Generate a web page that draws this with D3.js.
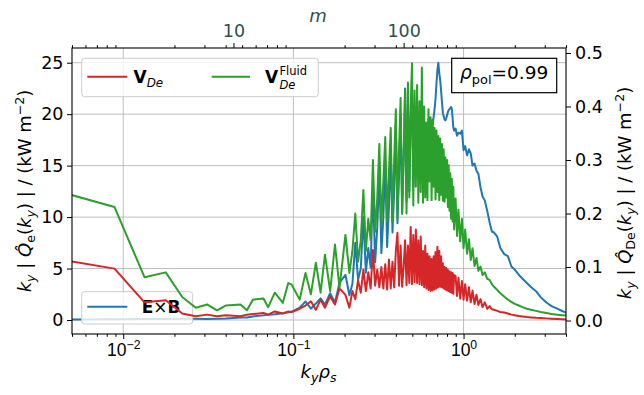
<!DOCTYPE html>
<html>
<head>
<meta charset="utf-8">
<script src="https://cdn.jsdelivr.net/npm/d3@7"></script>
<style>
  body { margin: 0; background: #fff; }
  svg { font-family: "DejaVu Sans", sans-serif; }
</style>
</head>
<body>
<div id="chart"></div>
<script>
// toroidal mode numbers of the spectrum points (k_y rho_s = m / M_PER_KY)
const M_PER_KY = 225;
const modeM = [
  1, 2, 3, 4, 5, 6, 7, 8, 9, 10, 11, 12, 13, 15, 16, 17.5, 19.5, 21, 22, 24.5,
  26.5, 28.5, 30.5, 32.5, 34.5, 37, 39.5, 42, 45.5,
  48, 50, 52, 54, 56, 58, 60, 62, 64, 66, 68, 70, 72, 74, 76, 78, 80, 82, 84, 86, 88, 90, 92, 94, 96, 98,
  100, 102, 104, 106, 108, 110, 112, 114, 116, 118, 120, 122, 124, 126, 128, 130, 132, 134, 136, 138,
  140, 142, 144, 146, 148, 150, 152, 154, 156, 158, 160, 162, 164, 166, 168, 170, 172, 174, 176, 178,
  180, 182, 184, 186, 188, 190, 192, 194, 196, 198,
  202, 206, 210, 215, 220, 225, 230, 236, 242, 248, 254, 261, 268, 275, 283, 291, 300, 310, 320, 330, 340,
  355, 370, 390, 410, 430, 450, 475, 500, 530, 560, 600, 640, 690, 740, 800, 860, 910];

// E x B heat flux spectrum, left axis (kW m^-2)
const qExB = [
  0.05, 0.08, 0.1, 0.1, 0.12, 0.12, 0.1, 0.12, 0.15, 0.2, 0.25, 0.25, 0.35, 0.45, 0.5, 0.55, 0.65, 0.75, 0.8, 1.2,
  1.8, 1.1, 1.6, 2.1, 1.5, 2.6, 1.7, 3.6, 4.4,
  2.4, 3.5, 7.5, 3.9, 5.0, 10, 4.6, 7, 5.1, 13, 5.6, 9, 14.5, 6.5, 10, 15.5, 7.1, 11, 16.5, 8.5, 12.5, 19, 9.4, 14, 20, 10.5,
  16, 22.5, 11.5, 21, 12.5, 19.5, 21.5, 13, 20, 14, 20.5, 14.5, 19.5, 15, 20, 15.5, 19, 16, 18.5, 16.5,
  19.5, 17, 18.5, 17.5, 19, 19.7, 20.5, 21.5, 23, 24.3, 25.0, 24.0, 23.3, 22.3, 21.2, 20.1, 19.8, 19.5, 19.4, 19.6,
  19.9, 20.2, 20.4, 20.5, 20.6, 20.7, 20.5, 19.6, 18.7, 18.4,
  18.6, 17.9, 18.2, 18.1, 18.4, 16.5, 16.9, 16.0, 16.6, 16.2, 15.0, 15.2, 14.5, 14.2, 12.9, 12.0, 11.6, 10.6, 9.5, 8.6, 8.5,
  8.1, 7.0, 6.4, 6.2, 5.2, 4.9, 4.4, 4.0, 3.6, 3.2, 2.8, 2.2, 1.7, 1.35, 1.1, 0.85, 0.7];

// V_De heat flux spectrum, right axis (kW m^-2)
const qVDe = [
  0.113, 0.097, 0.034, 0.038, 0.013, 0.008, 0.011, 0.008, 0.010, 0.009, 0.008, 0.011, 0.012, 0.014, 0.011, 0.017, 0.013, 0.017, 0.016, 0.022,
  0.028, 0.036, 0.020, 0.039, 0.024, 0.045, 0.030, 0.060, 0.048,
  0.024, 0.055, 0.04, 0.075, 0.052, 0.095, 0.055, 0.09, 0.06, 0.132, 0.065, 0.095, 0.062, 0.10, 0.06, 0.105, 0.058, 0.114, 0.06, 0.11, 0.062, 0.13, 0.164, 0.065, 0.14, 0.063,
  0.10, 0.15, 0.066, 0.14, 0.07, 0.175, 0.068, 0.16, 0.072, 0.17, 0.07, 0.15, 0.068, 0.157, 0.066, 0.13, 0.062, 0.14, 0.06, 0.125,
  0.057, 0.12, 0.055, 0.115, 0.056, 0.12, 0.058, 0.128, 0.06, 0.138, 0.062, 0.13, 0.063, 0.12, 0.062, 0.107, 0.06, 0.10, 0.058, 0.098,
  0.056, 0.095, 0.055, 0.092, 0.053, 0.09, 0.052, 0.089, 0.05, 0.085,
  0.083, 0.046, 0.08, 0.041, 0.074, 0.039, 0.068, 0.037, 0.062, 0.034, 0.056, 0.031, 0.048, 0.029, 0.040, 0.025, 0.034, 0.022, 0.027, 0.021, 0.020,
  0.018, 0.016, 0.015, 0.013, 0.011, 0.010, 0.0085, 0.0075, 0.0065, 0.0058, 0.005, 0.0045, 0.004, 0.0035, 0.003, 0.0025, 0.002];

// V_De fluid heat flux spectrum, right axis (kW m^-2)
const qVDeFluid = [
  0.239, 0.212, 0.081, 0.090, 0.044, 0.024, 0.030, 0.019, 0.028, 0.029, 0.030, 0.019, 0.039, 0.041, 0.025, 0.052, 0.033, 0.070, 0.067, 0.039,
  0.089, 0.049, 0.108, 0.052, 0.123, 0.055, 0.142, 0.061, 0.160,
  0.089, 0.13, 0.20, 0.11, 0.15, 0.244, 0.13, 0.19, 0.15, 0.30, 0.166, 0.23, 0.33, 0.18, 0.26, 0.343, 0.185, 0.28, 0.36, 0.184, 0.30, 0.395, 0.19, 0.32, 0.416, 0.199,
  0.30, 0.43, 0.20, 0.445, 0.23, 0.40, 0.481, 0.215, 0.43, 0.25, 0.44, 0.22, 0.41, 0.24, 0.473, 0.22, 0.40, 0.23, 0.37, 0.225,
  0.395, 0.26, 0.38, 0.225, 0.375, 0.25, 0.36, 0.226, 0.355, 0.24, 0.345, 0.225, 0.34, 0.235, 0.33, 0.224, 0.32, 0.222, 0.305, 0.23,
  0.30, 0.212, 0.29, 0.205, 0.275, 0.19, 0.265, 0.185, 0.25, 0.17,
  0.228, 0.158, 0.207, 0.148, 0.19, 0.135, 0.17, 0.125, 0.152, 0.113, 0.135, 0.102, 0.117, 0.093, 0.101, 0.085, 0.09, 0.078, 0.076, 0.068, 0.063,
  0.057, 0.051, 0.045, 0.039, 0.035, 0.031, 0.028, 0.025, 0.022, 0.020, 0.018, 0.016, 0.014, 0.012, 0.011, 0.010, 0.009];

// ticks
const leftTicks = [0, 5, 10, 15, 20, 25];
const rightTicks = [0, 0.1, 0.2, 0.3, 0.4, 0.5];
const kyMajor = [0.01, 0.1, 1];
const kyMajorExp = ["\u22122", "\u22121", "0"];
const mTicks = [10, 100];
const minorMult = [2, 3, 4, 5, 6, 7, 8, 9];
const minorDecades = [0.001, 0.01, 0.1, 1];

const colors = { exb: "#1f77b4", vde: "#d62728", fluid: "#2ca02c" };

const chart = {
  margin: { top: 48, left: 72 },
  width: 494,
  height: 286,
  fs: 17.5
};

const svg = d3.select("#chart")
  .append("svg")
  .attr("width", 644)
  .attr("height", 395);

const g = svg.append("g")
  .attr("transform", "translate(" + chart.margin.left + "," + chart.margin.top + ")");

// scales
const kyDomain = [0.005, 4.0];
const x = d3.scaleLog().domain(kyDomain).range([0, chart.width]);
const xm = d3.scaleLog().domain(kyDomain.map(k => k * M_PER_KY)).range([0, chart.width]);
const yL = d3.scaleLinear().domain([-1.36, 26.43]).range([chart.height, 0]);
const yR = d3.scaleLinear().domain([-0.0252, 0.5093]).range([chart.height, 0]);

const kyMinor = [];
minorDecades.forEach(d => minorMult.forEach(mu => {
  const v = d * mu;
  if (v >= kyDomain[0] && v <= kyDomain[1]) kyMinor.push(v);
}));

// rich text helper: parts are {t, i, b, s, dy}
function rich(sel, x0, y0, parts, opt) {
  const t = sel.append("text")
    .attr("x", x0)
    .attr("y", y0)
    .attr("font-size", opt.size)
    .attr("text-anchor", opt.anchor || "start")
    .attr("fill", opt.fill || "black");
  if (opt.rotate) t.attr("transform", `rotate(${opt.rotate},${x0},${y0})`);
  let cur = 0;
  parts.forEach(p => {
    const sh = p.dy || 0;
    t.append("tspan")
      .attr("dy", sh - cur)
      .attr("font-size", (p.s || 1) * opt.size)
      .attr("font-style", p.i ? "italic" : null)
      .attr("font-weight", p.b ? "bold" : null)
      .text(p.t);
    cur = sh;
  });
  return t;
}

// clip
g.append("clipPath").attr("id", "plotclip")
  .append("rect").attr("width", chart.width).attr("height", chart.height);

// grid
g.append("g")
  .selectAll("line")
  .data(kyMajor)
  .enter()
  .append("line")
  .attr("x1", d => x(d)).attr("x2", d => x(d))
  .attr("y1", 0).attr("y2", chart.height)
  .attr("stroke", "#b0b0b0").attr("stroke-width", 1).attr("opacity", 0.8);

g.append("g")
  .selectAll("line")
  .data(leftTicks)
  .enter()
  .append("line")
  .attr("x1", 0).attr("x2", chart.width)
  .attr("y1", d => yL(d)).attr("y2", d => yL(d))
  .attr("stroke", "#b0b0b0").attr("stroke-width", 1).attr("opacity", 0.8);

// series
const series = modeM.map((m, i) => ({
  ky: m / M_PER_KY,
  exb: qExB[i],
  vde: qVDe[i],
  fluid: qVDeFluid[i]
}));

const plot = g.append("g").attr("clip-path", "url(#plotclip)");

function drawLine(target, key, yScale) {
  target.append("path")
    .datum(series)
    .attr("fill", "none")
    .attr("stroke", colors[key])
    .attr("stroke-width", 2)
    .attr("stroke-linejoin", "round")
    .attr("d", d3.line().defined(d => d[key] != null).x(d => x(d.ky)).y(d => yScale(d[key])));
}

drawLine(plot, "exb", yL);

// E x B legend (belongs to the left axes, so it sits below the right-axis lines)
const leg2 = g.append("g");
leg2.append("rect")
  .attr("x", 9.7).attr("y", 243.7)
  .attr("width", 111).attr("height", 32.3)
  .attr("rx", 3)
  .attr("fill", "white").attr("fill-opacity", 0.8)
  .attr("stroke", "#cccccc");
leg2.append("line")
  .attr("x1", 15.3).attr("x2", 55.3)
  .attr("y1", 258.7).attr("y2", 258.7)
  .attr("stroke", colors.exb).attr("stroke-width", 2);
rich(leg2, 69.7, 265.3, [
  { t: "E", b: true }, { t: "\u00d7" }, { t: "B", b: true }
], { size: 17 });

const plot2 = g.append("g").attr("clip-path", "url(#plotclip)");
drawLine(plot2, "vde", yR);
drawLine(plot2, "fluid", yR);

// axes
function styleAxis(a) {
  a.select(".domain").remove();
  a.selectAll(".tick line").attr("stroke", "black").attr("stroke-width", 1);
  a.selectAll("text").attr("font-size", chart.fs).attr("font-family", "DejaVu Sans").attr("fill", "black");
}

g.append("g")
  .call(d3.axisLeft(yL).tickValues(leftTicks).tickSize(5).tickPadding(3.5).tickFormat(d3.format("d")))
  .call(styleAxis);

g.append("g")
  .attr("transform", "translate(" + chart.width + ",0)")
  .call(d3.axisRight(yR).tickValues(rightTicks).tickSize(5).tickPadding(4).tickFormat(d3.format(".1f")))
  .call(styleAxis);

const xAxis = g.append("g")
  .attr("transform", "translate(0," + chart.height + ")")
  .call(d3.axisBottom(x).tickValues(kyMajor).tickSize(5).tickFormat(""))
  .call(styleAxis);

xAxis.selectAll(".tick").each(function(d, i) {
  rich(d3.select(this), 0, 21.7, [
    { t: "10" }, { t: kyMajorExp[i], s: 0.7, dy: -7 }
  ], { size: chart.fs, anchor: "middle" });
});

g.append("g")
  .attr("transform", "translate(0," + chart.height + ")")
  .call(d3.axisBottom(x).tickValues(kyMinor).tickSize(2.8).tickFormat(""))
  .call(styleAxis);

g.append("g")
  .call(d3.axisTop(x).tickValues(kyMinor).tickSize(2.8).tickFormat(""))
  .call(styleAxis);

g.append("g")
  .call(d3.axisTop(xm).tickValues(mTicks).tickSize(5).tickPadding(6.3).tickFormat(d3.format("d")))
  .call(styleAxis)
  .selectAll("text")
  .attr("fill", "#2f4f4f");

// frame
g.append("rect")
  .attr("width", chart.width).attr("height", chart.height)
  .attr("fill", "none").attr("stroke", "black").attr("stroke-width", 1.1);

// V_De legend
const leg1 = g.append("g");
leg1.append("rect")
  .attr("x", 9.7).attr("y", 10.3)
  .attr("width", 236.6).attr("height", 38.4)
  .attr("rx", 3)
  .attr("fill", "white").attr("fill-opacity", 0.8)
  .attr("stroke", "#cccccc");
leg1.append("line")
  .attr("x1", 15.3).attr("x2", 55.3)
  .attr("y1", 28.7).attr("y2", 28.7)
  .attr("stroke", colors.vde).attr("stroke-width", 2);
rich(leg1, 61.5, 34.7, [
  { t: "V", b: true }, { t: "De", i: true, s: 0.7, dy: 4.5 }
], { size: 17 });
leg1.append("line")
  .attr("x1", 139.7).attr("x2", 178)
  .attr("y1", 28.7).attr("y2", 28.7)
  .attr("stroke", colors.fluid).attr("stroke-width", 2);
rich(leg1, 193, 34.7, [{ t: "V", b: true }], { size: 17 });
rich(leg1, 207.5, 40.5, [{ t: "De", i: true }], { size: 11.5 });
rich(leg1, 207.5, 26.5, [{ t: "Fluid" }], { size: 11.5 });

// rho_pol box
g.append("rect")
  .attr("x", 379.7).attr("y", 10.3)
  .attr("width", 105).attr("height", 34.4)
  .attr("fill", "white")
  .attr("stroke", "black").attr("stroke-width", 1.2);
rich(g, 432.2, 31, [
  { t: "\u03c1", i: true }, { t: "pol", s: 0.7, dy: 4.5 }, { t: "=0.99" }
], { size: 18.5, anchor: "middle" });

// axis labels
rich(svg, 318.5, 378, [
  { t: "k", i: true }, { t: "y", i: true, s: 0.7, dy: 4 }, { t: "\u03c1", i: true }, { t: "s", i: true, s: 0.7, dy: 4 }
], { size: 18, anchor: "middle" });

rich(svg, 318, 21.7, [{ t: "m", i: true }], { size: 18, anchor: "middle", fill: "#2f4f4f" });

function fluxLabel(sub) {
  return [
    { t: "k", i: true }, { t: "y", i: true, s: 0.7, dy: 4 },
    { t: " | " }, { t: "Q\u0302", i: true }, { t: sub, s: 0.7, dy: 4 },
    { t: "(" }, { t: "k", i: true }, { t: "y", i: true, s: 0.7, dy: 4 }, { t: ")" },
    { t: " |  / (kW m" }, { t: "\u22122", s: 0.7, dy: -7 }, { t: ")" }
  ];
}

rich(svg, 31, 191, fluxLabel("e"), { size: 18, anchor: "middle", rotate: -90 });
rich(svg, 631, 193, fluxLabel("De"), { size: 18, anchor: "middle", rotate: -90 });
</script>
</body>
</html>
